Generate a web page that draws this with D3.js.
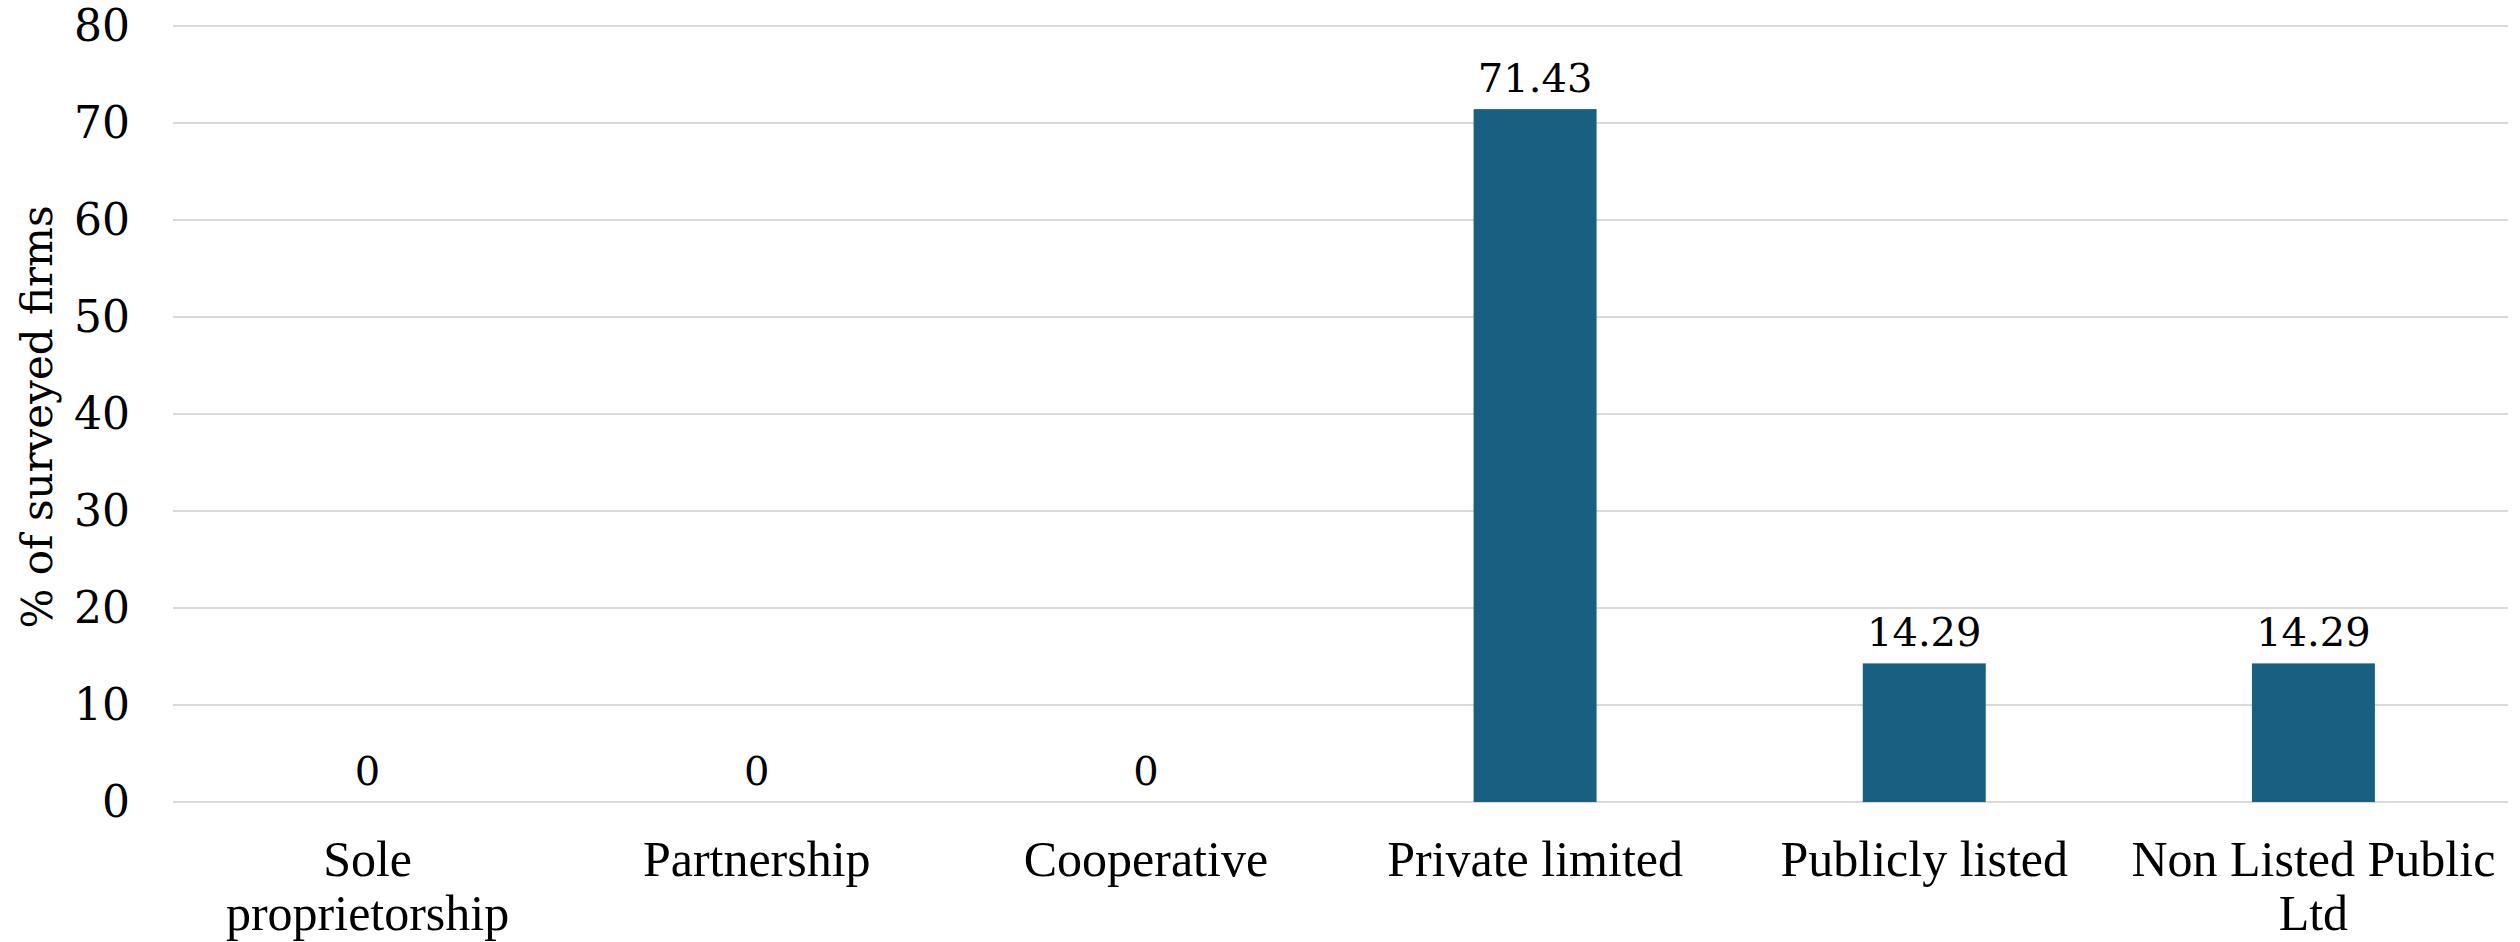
<!DOCTYPE html>
<html>
<head>
<meta charset="utf-8">
<script src="https://cdn.jsdelivr.net/npm/d3@7"></script>
<style>
  html, body { margin: 0; padding: 0; background: #ffffff; }
  svg { display: block; }
</style>
</head>
<body>
<svg id="chart" width="2520" height="942"></svg>
<script>
// Legal form of surveyed firms (% of firms)
const categories = ["Sole proprietorship", "Partnership", "Cooperative", "Private limited", "Publicly listed", "Non Listed Public Ltd"];
const values = [0, 0, 0, 71.43, 14.29, 14.29];
const yTicks = [0, 10, 20, 30, 40, 50, 60, 70, 80];
const yTitle = "% of surveyed firms";

const width = 2520, height = 942;
const plot = { left: 173, right: 2508, top: 26, bottom: 802 };
const barColor = "#185f81";
const numFont = "'DejaVu Serif', serif";
const catFont = "'Liberation Serif', serif";

const svg = d3.select("#chart");

const x = d3.scaleBand()
  .domain(categories)
  .range([plot.left, plot.right])
  .paddingInner(0.684)
  .paddingOuter(0.342);

const y = d3.scaleLinear()
  .domain([0, 80])
  .range([plot.bottom, plot.top]);

// horizontal gridlines
svg.append("g")
  .selectAll("line")
  .data(yTicks)
  .join("line")
  .attr("x1", plot.left)
  .attr("x2", plot.right)
  .attr("y1", d => y(d))
  .attr("y2", d => y(d))
  .attr("stroke", "#d9d9d9")
  .attr("stroke-width", 2);

// y axis tick labels
const yAxis = svg.append("g")
  .attr("transform", `translate(${plot.left},0)`)
  .call(d3.axisLeft(y).tickValues(yTicks).tickSize(0).tickPadding(43).tickFormat(d3.format("d")));
yAxis.select(".domain").remove();
yAxis.selectAll("text")
  .attr("font-family", numFont)
  .attr("font-size", 44)
  .attr("fill", "#000");

// y axis title
svg.append("text")
  .attr("transform", `translate(52, ${(plot.top + plot.bottom) / 2 + 3}) rotate(-90)`)
  .attr("text-anchor", "middle")
  .attr("font-family", numFont)
  .attr("font-size", 42)
  .attr("fill", "#000")
  .text(yTitle);

// bars
svg.append("g")
  .selectAll("rect")
  .data(categories)
  .join("rect")
  .attr("x", d => x(d))
  .attr("width", x.bandwidth())
  .attr("y", (d, i) => y(values[i]))
  .attr("height", (d, i) => y(0) - y(values[i]))
  .attr("fill", barColor);

// value labels
svg.append("g")
  .selectAll("text")
  .data(categories)
  .join("text")
  .attr("x", d => x(d) + x.bandwidth() / 2)
  .attr("y", (d, i) => y(values[i]) - 17)
  .attr("text-anchor", "middle")
  .attr("font-family", numFont)
  .attr("font-size", 40)
  .attr("fill", "#000")
  .text((d, i) => values[i] === 0 ? "0" : d3.format(".2f")(values[i]));

// category labels, wrapped to the band step
const step = x.step();
const catG = svg.append("g");
categories.forEach(cat => {
  const t = catG.append("text")
    .attr("x", x(cat) + x.bandwidth() / 2)
    .attr("y", 876)
    .attr("text-anchor", "middle")
    .attr("font-family", catFont)
    .attr("font-size", 50)
    .attr("fill", "#000");
  const words = cat.split(" ");
  let lines = [], line = [];
  const probe = t.append("tspan");
  words.forEach(w => {
    const trial = line.concat(w).join(" ");
    probe.text(trial);
    if (probe.node().getComputedTextLength() > step - 10 && line.length) {
      lines.push(line.join(" "));
      line = [w];
    } else {
      line.push(w);
    }
  });
  lines.push(line.join(" "));
  probe.remove();
  lines.forEach((l, i) => {
    t.append("tspan")
      .attr("x", x(cat) + x.bandwidth() / 2)
      .attr("dy", i === 0 ? 0 : 54)
      .text(l);
  });
});
</script>
</body>
</html>
